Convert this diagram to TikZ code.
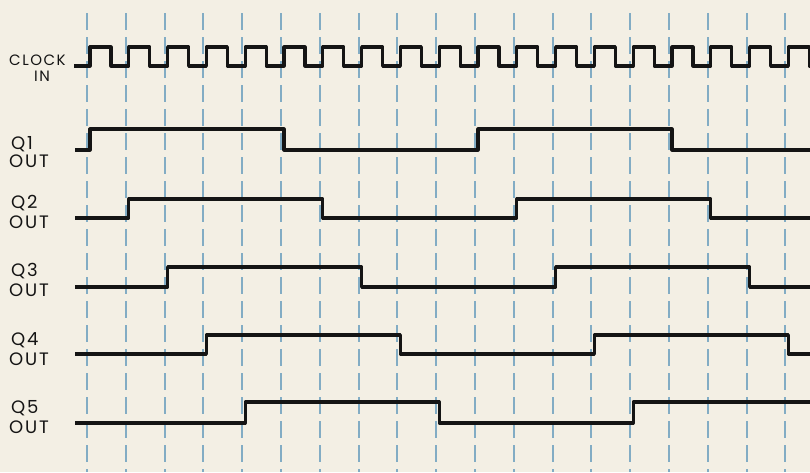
\documentclass[tikz,border=0pt]{standalone}
\usepackage{fontspec}
\setmainfont{Poppins}
\newfontfamily\labfont[LetterSpace=10]{Poppins}
\definecolor{paper}{RGB}{243,239,228}
\definecolor{gridblue}{RGB}{130,172,196}
\definecolor{ink}{RGB}{20,20,20}
\newcommand{\qwave}[3]{%
  \draw[wave] (75,#3)
    \foreach \m in {0,1,2,3}{
      -- ({90+38.8*(#1-1+10*\m)},#3) -- ({90+38.8*(#1-1+10*\m)},#2)
      -- ({90+38.8*(#1+4+10*\m)},#2) -- ({90+38.8*(#1+4+10*\m)},#3)
    } -- (900,#3);}
\begin{document}
\begin{tikzpicture}[x=1pt,y=-1pt,
  wave/.style={line width=3.2pt, line join=round, ink},
  gridline/.style={gridblue, line width=1.5pt, dash pattern=on 17pt off 7pt},
  lab/.style={anchor=west, inner sep=0pt, text=ink, font=\labfont\fontsize{18}{18}\selectfont},
  smlab/.style={anchor=west, inner sep=0pt, text=ink, font=\labfont\fontsize{15}{15}\selectfont}]
\fill[paper] (0,0) rectangle (810,472);
\useasboundingbox (0,0) rectangle (810,472);
\clip (0,0) rectangle (810,472);
% grid lines
\foreach \k in {0,...,18}{
  \draw[gridline] ({round(87+38.8*\k)},13) -- ({round(87+38.8*\k)},472);
}
% clock
\draw[wave] (74,66)
  \foreach \k in {0,...,18}{
    -- ({90+38.8*\k},66) -- ({90+38.8*\k},47)
    -- ({111+38.8*\k},47) -- ({111+38.8*\k},66)
  } -- (830,66);
% outputs (high y, low y)
\qwave{1}{129}{150}
\qwave{2}{199}{218}
\qwave{3}{267}{287}
\qwave{4}{335}{354}
\qwave{5}{402}{423}
% labels
\node[smlab] (clk) at (9,60) {CLOCK};
\node[smlab] (clkin) at (34,76) {IN};
\node[lab] (q1) at (11,144) {Q1};
\node[lab] (q1o) at (9,161) {OUT};
\node[lab] (q2) at (11,203) {Q2};
\node[lab] (q2o) at (9,222) {OUT};
\node[lab] (q3) at (11,271) {Q3};
\node[lab] (q3o) at (9,290) {OUT};
\node[lab] (q4) at (11,340) {Q4};
\node[lab] (q4o) at (9,359) {OUT};
\node[lab] (q5) at (11,408) {Q5};
\node[lab] (q5o) at (9,427) {OUT};
\end{tikzpicture}
\end{document}
